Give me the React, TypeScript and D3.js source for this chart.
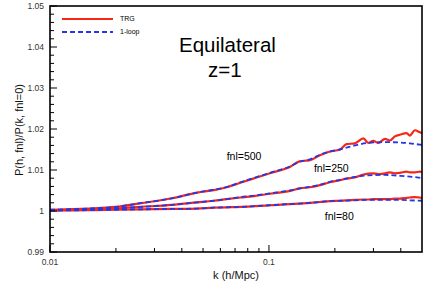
import React from 'react';
import * as d3 from 'd3';

// k grid (h/Mpc) shared by the 1-loop curves
const kLoop = [0.01, 0.015, 0.02, 0.026, 0.036, 0.047, 0.056, 0.064, 0.074, 0.087, 0.101, 0.125, 0.138, 0.154, 0.171, 0.19, 0.211, 0.247, 0.284, 0.339, 0.396, 0.44, 0.5];

const loop500 = [1.0003, 1.0006, 1.001, 1.0019, 1.0031, 1.0045, 1.0052, 1.0058, 1.007, 1.0082, 1.0093, 1.0109, 1.012, 1.0126, 1.0137, 1.0145, 1.015, 1.016, 1.0166, 1.0168, 1.0167, 1.0165, 1.0161];
const loop250 = [1.0002, 1.0004, 1.0006, 1.001, 1.0015, 1.0021, 1.0025, 1.0029, 1.0034, 1.0038, 1.0043, 1.005, 1.0055, 1.0059, 1.0064, 1.0071, 1.0076, 1.0083, 1.0087, 1.0088, 1.0086, 1.0084, 1.008];
const loop80 = [1.0001, 1.0002, 1.0003, 1.0004, 1.0005, 1.0006, 1.0008, 1.0009, 1.001, 1.0012, 1.0014, 1.0017, 1.0018, 1.002, 1.0022, 1.0024, 1.0025, 1.0026, 1.0027, 1.0027, 1.0027, 1.0026, 1.0025];

// TRG curves, denser at high k where they wiggle
const kTrg = [0.01, 0.015, 0.02, 0.026, 0.036, 0.047, 0.056, 0.064, 0.074, 0.087, 0.101, 0.125, 0.138, 0.154, 0.171, 0.19, 0.211, 0.226, 0.247, 0.27, 0.284, 0.299, 0.316, 0.339, 0.357, 0.376, 0.396, 0.425, 0.44, 0.464, 0.489, 0.5];

const trg500 = [1.0003, 1.0006, 1.001, 1.0019, 1.0031, 1.0045, 1.0051, 1.0058, 1.0069, 1.0081, 1.0092, 1.0108, 1.0121, 1.0124, 1.0136, 1.0145, 1.015, 1.0163, 1.0165, 1.0177, 1.0166, 1.0171, 1.0166, 1.0176, 1.0172, 1.0182, 1.0186, 1.019, 1.0184, 1.0197, 1.0192, 1.019];
const trg250 = [1.0002, 1.0004, 1.0006, 1.001, 1.0015, 1.0021, 1.0025, 1.0029, 1.0033, 1.0037, 1.0042, 1.0049, 1.0055, 1.0058, 1.0063, 1.007, 1.0075, 1.0079, 1.0082, 1.0089, 1.0091, 1.0092, 1.009, 1.0092, 1.0094, 1.0092, 1.0093, 1.0096, 1.0094, 1.0094, 1.0096, 1.0095];
const trg80 = [1.0001, 1.0002, 1.0003, 1.0004, 1.0005, 1.0006, 1.0008, 1.0009, 1.001, 1.0012, 1.0014, 1.0017, 1.0018, 1.002, 1.0022, 1.0024, 1.0025, 1.0026, 1.0027, 1.0028, 1.0028, 1.0029, 1.0029, 1.0029, 1.0029, 1.003, 1.003, 1.0032, 1.0033, 1.0034, 1.0033, 1.0032];

const xTickLabels = [0.01, 0.1];
const xMinorTicks = [0.02, 0.03, 0.04, 0.05, 0.06, 0.07, 0.08, 0.09, 0.2, 0.3, 0.4];
const yTickLabels = [0.99, 1, 1.01, 1.02, 1.03, 1.04, 1.05];

const curveLabels = [
  { text: 'fnl=500', k: 0.0641, v: 1.0125 },
  { text: 'fnl=250', k: 0.1605, v: 1.0094 },
  { text: 'fnl=80', k: 0.18, v: 0.9978 },
];

const RED = '#f5271a';
const BLUE = '#2337e6';

const App = () => {
  const width = 429;
  const height = 303;
  const margin = { top: 6, right: 7, bottom: 51, left: 50 };

  const x = d3.scaleLog().domain([0.01, 0.5]).range([margin.left, width - margin.right]);
  const y = d3.scaleLinear().domain([0.99, 1.05]).range([height - margin.bottom, margin.top]);

  const line = (ks: number[], vs: number[]) =>
    d3.line<number>()
      .x((_, i) => x(ks[i]))
      .y((d) => y(d))
      .curve(d3.curveMonotoneX)(vs) || '';

  const yMinor = d3.range(0, 31).map((i) => 0.99 + i * 0.002);
  const font = '"Liberation Sans", Arial, Helvetica, sans-serif';
  const x0 = margin.left;
  const yb = height - margin.bottom;

  return (
    <svg width={width} height={height} style={{ position: 'absolute', left: 0, top: 0 }} fontFamily={font}>
      <rect width={width} height={height} fill="#fff" />

      {/* curves */}
      <g fill="none">
        {[trg500, trg250, trg80].map((vs, i) => (
          <path key={'t' + i} d={line(kTrg, vs)} stroke={RED} strokeWidth={2.2} />
        ))}
        {[loop500, loop250, loop80].map((vs, i) => (
          <path key={'l' + i} d={line(kLoop, vs)} stroke={BLUE} strokeWidth={1.8} strokeDasharray="5 3" />
        ))}
      </g>

      {/* ticks inside the frame */}
      <g stroke="#000" strokeWidth={1}>
        {yMinor.map((v, i) => (
          <line key={'ym' + i} x1={x0} x2={x0 + (i % 5 === 0 ? 7 : 4)} y1={y(v)} y2={y(v)} />
        ))}
        {xTickLabels.map((k) => (
          <line key={'xM' + k} x1={x(k)} x2={x(k)} y1={yb} y2={yb - 7} />
        ))}
        {xMinorTicks.map((k) => (
          <line key={'xm' + k} x1={x(k)} x2={x(k)} y1={yb} y2={yb - 4} />
        ))}
      </g>

      {/* frame */}
      <rect x={x0} y={margin.top} width={width - margin.right - x0} height={yb - margin.top}
        fill="none" stroke="#000" strokeWidth={1.6} />

      {/* tick labels */}
      <g fontSize={8.5} fill="#333">
        {yTickLabels.map((v) => (
          <text key={'yl' + v} x={x0 - 6} y={y(v)} dy="0.35em" textAnchor="end">
            {d3.format('~g')(v)}
          </text>
        ))}
        {xTickLabels.map((k) => (
          <text key={'xl' + k} x={x(k)} y={yb + 13} textAnchor="middle">{k}</text>
        ))}
      </g>

      {/* axis titles */}
      <text x={236} y={279} fontSize={11} textAnchor="middle" fill="#111">k (h/Mpc)</text>
      <text transform="translate(23,130) rotate(-90)" fontSize={11} textAnchor="middle" fill="#111">
        P(h, fnl)/P(k, fnl=0)
      </text>

      {/* title */}
      <text x={179} y={52} fontSize={20.5} fill="#000">Equilateral</text>
      <text x={208} y={77} fontSize={20.5} fill="#000">z=1</text>

      {/* curve labels */}
      {curveLabels.map((c) => (
        <text key={c.text} x={x(c.k)} y={y(c.v)} fontSize={10.5} fill="#000">{c.text}</text>
      ))}

      {/* legend */}
      <g fontSize={7} fill="#000">
        <line x1={62} x2={113} y1={19} y2={19} stroke={RED} strokeWidth={2} />
        <text x={120} y={19} dy="0.35em">TRG</text>
        <line x1={62} x2={113} y1={32} y2={32} stroke={BLUE} strokeWidth={1.8} strokeDasharray="5 3" />
        <text x={120} y={32} dy="0.35em">1-loop</text>
      </g>
    </svg>
  );
};

export default App;
